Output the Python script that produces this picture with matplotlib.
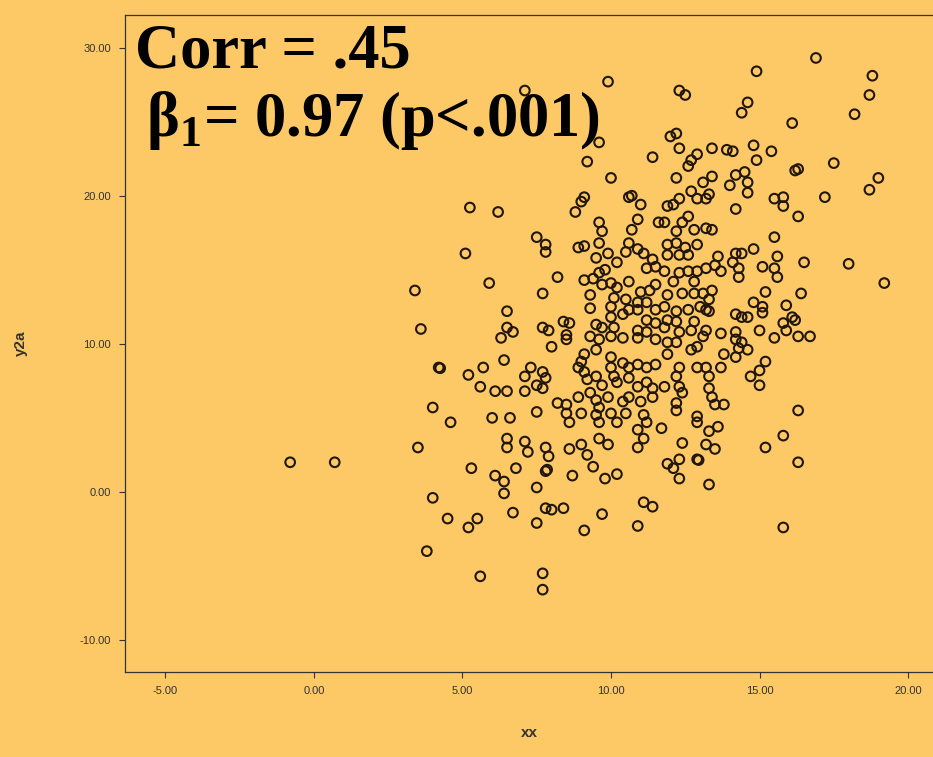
import matplotlib
matplotlib.use("Agg")
import matplotlib.pyplot as plt
import numpy as np

# ---- data ----
points = [
    (-0.8, 2.0), (0.7, 2.0),
    (3.4, 13.6), (3.6, 11.0), (4.2, 8.4), (4.25, 8.35), (4.0, 5.7), (3.5, 3.0), (4.0, -0.4), (4.5, -1.8), (3.8, -4.0), (4.6, 4.7),
    (5.1, 16.1), (5.25, 19.2), (6.2, 18.9), (5.9, 14.1), (7.1, 27.1),
    (6.5, 12.2), (6.5, 11.1), (6.7, 10.8), (6.3, 10.4), (6.4, 8.9), (5.7, 8.4), (5.2, 7.9), (5.6, 7.1), (6.1, 6.8), (6.5, 6.8),
    (7.1, 7.8), (7.1, 6.8), (7.3, 8.4), (6.0, 5.0), (6.6, 5.0),
    (6.5, 3.6), (6.5, 3.0), (7.1, 3.4), (7.2, 2.7), (5.3, 1.6), (6.8, 1.6), (6.1, 1.1), (6.4, 0.7), (6.4, -0.1), (6.7, -1.4),
    (5.5, -1.8), (5.2, -2.4), (5.6, -5.7),
    (8.6, 4.7), (9.6, 4.7), (10.2, 4.7), (10.9, 4.2), (11.2, 4.7), (11.1, 3.6), (10.9, 3.0), (7.8, 3.0), (7.9, 2.4), (8.6, 2.9),
    (9.0, 3.2), (9.2, 2.5), (9.4, 1.7), (9.6, 3.6), (9.9, 3.2), (7.8, 1.4), (7.85, 1.5), (8.7, 1.1), (9.8, 0.9), (10.2, 1.2),
    (7.5, 0.3), (7.8, -1.1), (8.0, -1.2), (8.4, -1.1), (9.7, -1.5), (7.5, -2.1), (9.1, -2.6), (11.1, -0.7), (11.4, -1.0),
    (10.9, -2.3), (7.7, -5.5), (7.7, -6.6),
    (11.7, 4.3), (12.9, 4.7), (13.3, 4.1), (13.6, 4.4), (12.4, 3.3), (13.2, 3.2), (13.5, 2.9), (12.3, 2.2), (11.9, 1.9),
    (12.1, 1.6), (12.9, 2.2), (12.95, 2.15), (12.3, 0.9), (13.3, 0.5), (15.2, 3.0), (15.8, 3.8), (15.8, -2.4), (16.3, 2.0),
    (16.5, 15.5), (18.0, 15.4), (19.2, 14.1), (16.4, 13.4), (16.1, 11.8), (16.2, 11.6), (16.3, 10.5), (16.7, 10.5), (16.3, 5.5),
    (16.9, 29.3), (18.8, 28.1), (18.7, 26.8), (18.2, 25.5), (16.1, 24.9), (16.3, 21.8), (16.2, 21.7), (17.5, 22.2), (19.0, 21.2),
    (18.7, 20.4), (17.2, 19.9), (16.3, 18.6),
    (9.9, 27.7), (9.6, 23.6), (9.2, 22.3), (10.0, 21.2), (11.4, 22.6), (9.1, 19.9), (9.0, 19.6), (8.8, 18.9), (10.6, 19.9),
    (10.7, 20.0), (11.0, 19.4), (10.9, 18.4), (9.6, 18.2), (9.7, 17.6), (10.7, 17.7), (7.5, 17.2), (11.6, 18.2),
    (14.9, 28.4), (12.3, 27.1), (12.5, 26.8), (14.6, 26.3), (14.4, 25.6), (12.0, 24.0), (12.2, 24.2), (12.3, 23.2), (13.4, 23.2),
    (13.9, 23.1), (14.1, 23.0), (14.8, 23.4), (15.4, 23.0), (14.9, 22.4), (12.9, 22.8), (12.7, 22.4), (12.6, 22.0), (12.2, 21.2),
    (13.1, 20.9), (13.4, 21.3), (14.2, 21.4), (14.5, 21.6), (14.6, 20.9), (14.0, 20.7), (14.6, 20.2), (12.7, 20.3), (13.3, 20.1),
    (13.2, 19.8), (12.9, 19.8), (12.3, 19.8), (12.1, 19.4), (11.9, 19.3), (14.2, 19.1), (15.5, 19.8), (15.8, 19.9), (15.8, 19.3),
    (12.6, 18.6), (12.4, 18.2), (12.8, 17.7), (13.2, 17.8), (13.4, 17.7), (12.2, 17.6), (11.8, 18.2), (15.5, 17.2),
    (7.8, 16.7), (7.8, 16.2), (8.9, 16.5), (9.1, 16.6), (9.6, 16.8), (9.9, 16.1), (10.2, 15.5), (10.6, 16.8), (10.9, 16.4),
    (11.1, 16.1), (11.4, 15.7), (11.2, 15.1), (11.5, 15.2), (10.5, 16.2),
    (9.5, 15.8), (8.2, 14.5), (7.7, 13.4), (9.1, 14.3), (9.4, 14.4), (9.6, 14.8), (9.8, 15.0), (9.7, 14.0), (10.0, 14.1),
    (10.2, 13.8), (10.6, 14.2), (11.0, 13.5), (11.3, 13.6), (11.5, 14.0), (9.3, 13.3), (10.1, 13.1), (10.5, 13.0), (10.9, 12.8),
    (11.2, 12.8), (9.3, 12.4), (10.0, 12.5), (10.6, 12.3), (10.9, 12.3), (10.4, 12.0), (10.0, 11.8), (11.5, 12.3), (11.2, 11.6),
    (11.5, 11.4),
    (7.7, 11.1), (7.9, 10.9), (8.4, 11.5), (8.6, 11.4), (8.5, 10.6), (8.5, 10.3), (8.0, 9.8), (9.5, 11.3), (9.7, 11.1),
    (10.1, 11.1), (10.0, 10.5), (10.4, 10.4), (10.9, 10.9), (11.2, 10.8), (9.3, 10.5), (9.6, 10.3), (10.9, 10.4), (11.5, 10.3),
    (9.5, 9.6), (9.1, 9.3), (9.0, 8.8), (8.9, 8.4), (10.0, 9.1), (10.0, 8.4), (10.4, 8.7), (10.6, 8.4), (10.9, 8.6), (11.2, 8.4),
    (11.5, 8.6), (7.7, 8.1), (7.8, 7.7), (7.5, 7.2), (7.7, 7.0), (9.1, 8.1), (9.2, 7.6), (9.5, 7.8), (9.7, 7.2), (10.1, 7.8),
    (10.2, 7.4), (10.6, 7.7), (10.9, 7.1), (11.2, 7.4), (11.4, 7.0), (8.2, 6.0), (8.5, 5.9), (8.9, 6.4), (9.3, 6.7),
    (9.5, 6.2), (9.6, 5.7), (9.9, 6.4), (10.4, 6.1), (10.6, 6.4), (11.0, 6.1), (11.4, 6.4), (7.5, 5.4), (8.5, 5.3), (9.0, 5.3),
    (9.5, 5.2), (10.0, 5.3), (10.5, 5.3), (11.1, 5.2),
    (11.9, 16.7), (12.2, 16.8), (12.5, 16.5), (12.9, 16.7), (11.9, 16.0), (12.3, 16.0), (12.6, 16.0), (13.6, 15.9), (14.2, 16.1),
    (14.4, 16.1), (14.8, 16.4), (14.1, 15.5), (14.3, 15.1), (14.3, 14.5), (15.6, 15.9), (15.1, 15.2), (15.5, 15.1), (15.6, 14.5),
    (11.8, 14.9), (12.3, 14.8), (12.6, 14.9), (12.9, 14.9), (13.2, 15.1), (13.5, 15.3), (13.7, 14.9), (12.1, 14.2), (12.8, 14.2),
    (11.9, 13.3), (12.4, 13.4), (12.8, 13.4), (13.1, 13.4), (13.4, 13.6), (13.3, 13.0), (11.8, 12.5), (12.2, 12.2), (12.6, 12.3),
    (13.0, 12.5), (13.2, 12.3), (13.3, 12.2), (15.2, 13.5), (14.8, 12.8), (15.1, 12.5), (15.1, 12.1), (15.9, 12.6), (14.2, 12.0),
    (14.4, 11.8), (14.6, 11.8), (15.8, 11.4), (15.9, 10.9), (11.9, 11.6), (12.2, 11.5), (12.8, 11.5), (11.8, 11.1), (12.3, 10.8),
    (12.7, 10.9), (13.2, 10.9), (13.7, 10.7), (13.1, 10.5), (14.2, 10.8), (15.0, 10.9), (15.5, 10.4), (14.2, 10.3), (14.4, 10.1),
    (14.3, 9.7), (14.6, 9.6), (11.9, 10.1), (12.2, 10.1), (12.7, 9.6), (12.9, 9.8), (11.9, 9.3), (13.8, 9.3), (14.2, 9.1),
    (12.3, 8.4), (12.9, 8.4), (13.2, 8.4), (13.7, 8.4), (15.2, 8.8), (15.0, 8.2), (14.7, 7.8), (15.0, 7.2), (12.2, 7.8),
    (13.3, 7.8), (11.8, 7.1), (12.3, 7.1), (13.3, 7.0), (12.4, 6.7), (13.4, 6.4), (13.8, 5.9), (13.5, 5.9), (12.2, 6.0),
    (12.2, 5.5), (12.9, 5.1),
]
xx = [p[0] for p in points]
y2a = [p[1] for p in points]

x_ticks = [-5, 0, 5, 10, 15, 20]
y_ticks = [-10, 0, 10, 20, 30]
corr_text = "Corr = .45"
beta_text = r"β$_{\mathbf{1}}$= 0.97 (p<.001)"

# ---- figure ----
W, H = 933, 757
bg = "#FCC966"
plt.rcParams["mathtext.fontset"] = "custom"
plt.rcParams["mathtext.rm"] = "Liberation Serif:bold"
plt.rcParams["mathtext.bf"] = "Liberation Serif:bold"

fig = plt.figure(figsize=(W / 100, H / 100), dpi=100, facecolor=bg)
ax = fig.add_axes([125 / W, 1 - 672 / H, 1 - 125 / W, (672 - 15) / H])
ax.set_facecolor(bg)

ax.scatter(xx, y2a, s=48, facecolors="none", edgecolors="#22160a", linewidths=1.5)

ax.set_xlim(-6.36, 20.84)
ax.set_ylim(-12.16, 32.2)
ax.set_xticks(x_ticks)
ax.set_yticks(y_ticks)
ax.set_xticklabels([f"{v:.2f}" for v in x_ticks], fontsize=8, family="Liberation Sans", color="#333333")
ax.set_yticklabels([f"{v:.2f}" for v in y_ticks], fontsize=8, family="Liberation Sans", color="#333333")
ax.tick_params(direction="out", length=4, width=0.8, color="#333333", pad=6)
for s in ["left", "top", "bottom"]:
    ax.spines[s].set_color("#333333")
    ax.spines[s].set_linewidth(0.9)
ax.spines["right"].set_visible(False)

ax.set_xlabel("xx", fontsize=11, fontweight="bold", family="Liberation Sans", color="#333333", labelpad=22)
ax.set_ylabel("y2a", fontsize=11, fontweight="bold", family="Liberation Sans", color="#333333", labelpad=37)

fig.text(135 / W, 1 - 68 / H, corr_text, fontsize=45, fontweight="bold", family="Liberation Serif", va="baseline", ha="left")
fig.text(146 / W, 1 - 136 / H, beta_text, fontsize=45, fontweight="bold", family="Liberation Serif", va="baseline", ha="left")

fig.savefig("out.png", dpi=100, facecolor=bg)
